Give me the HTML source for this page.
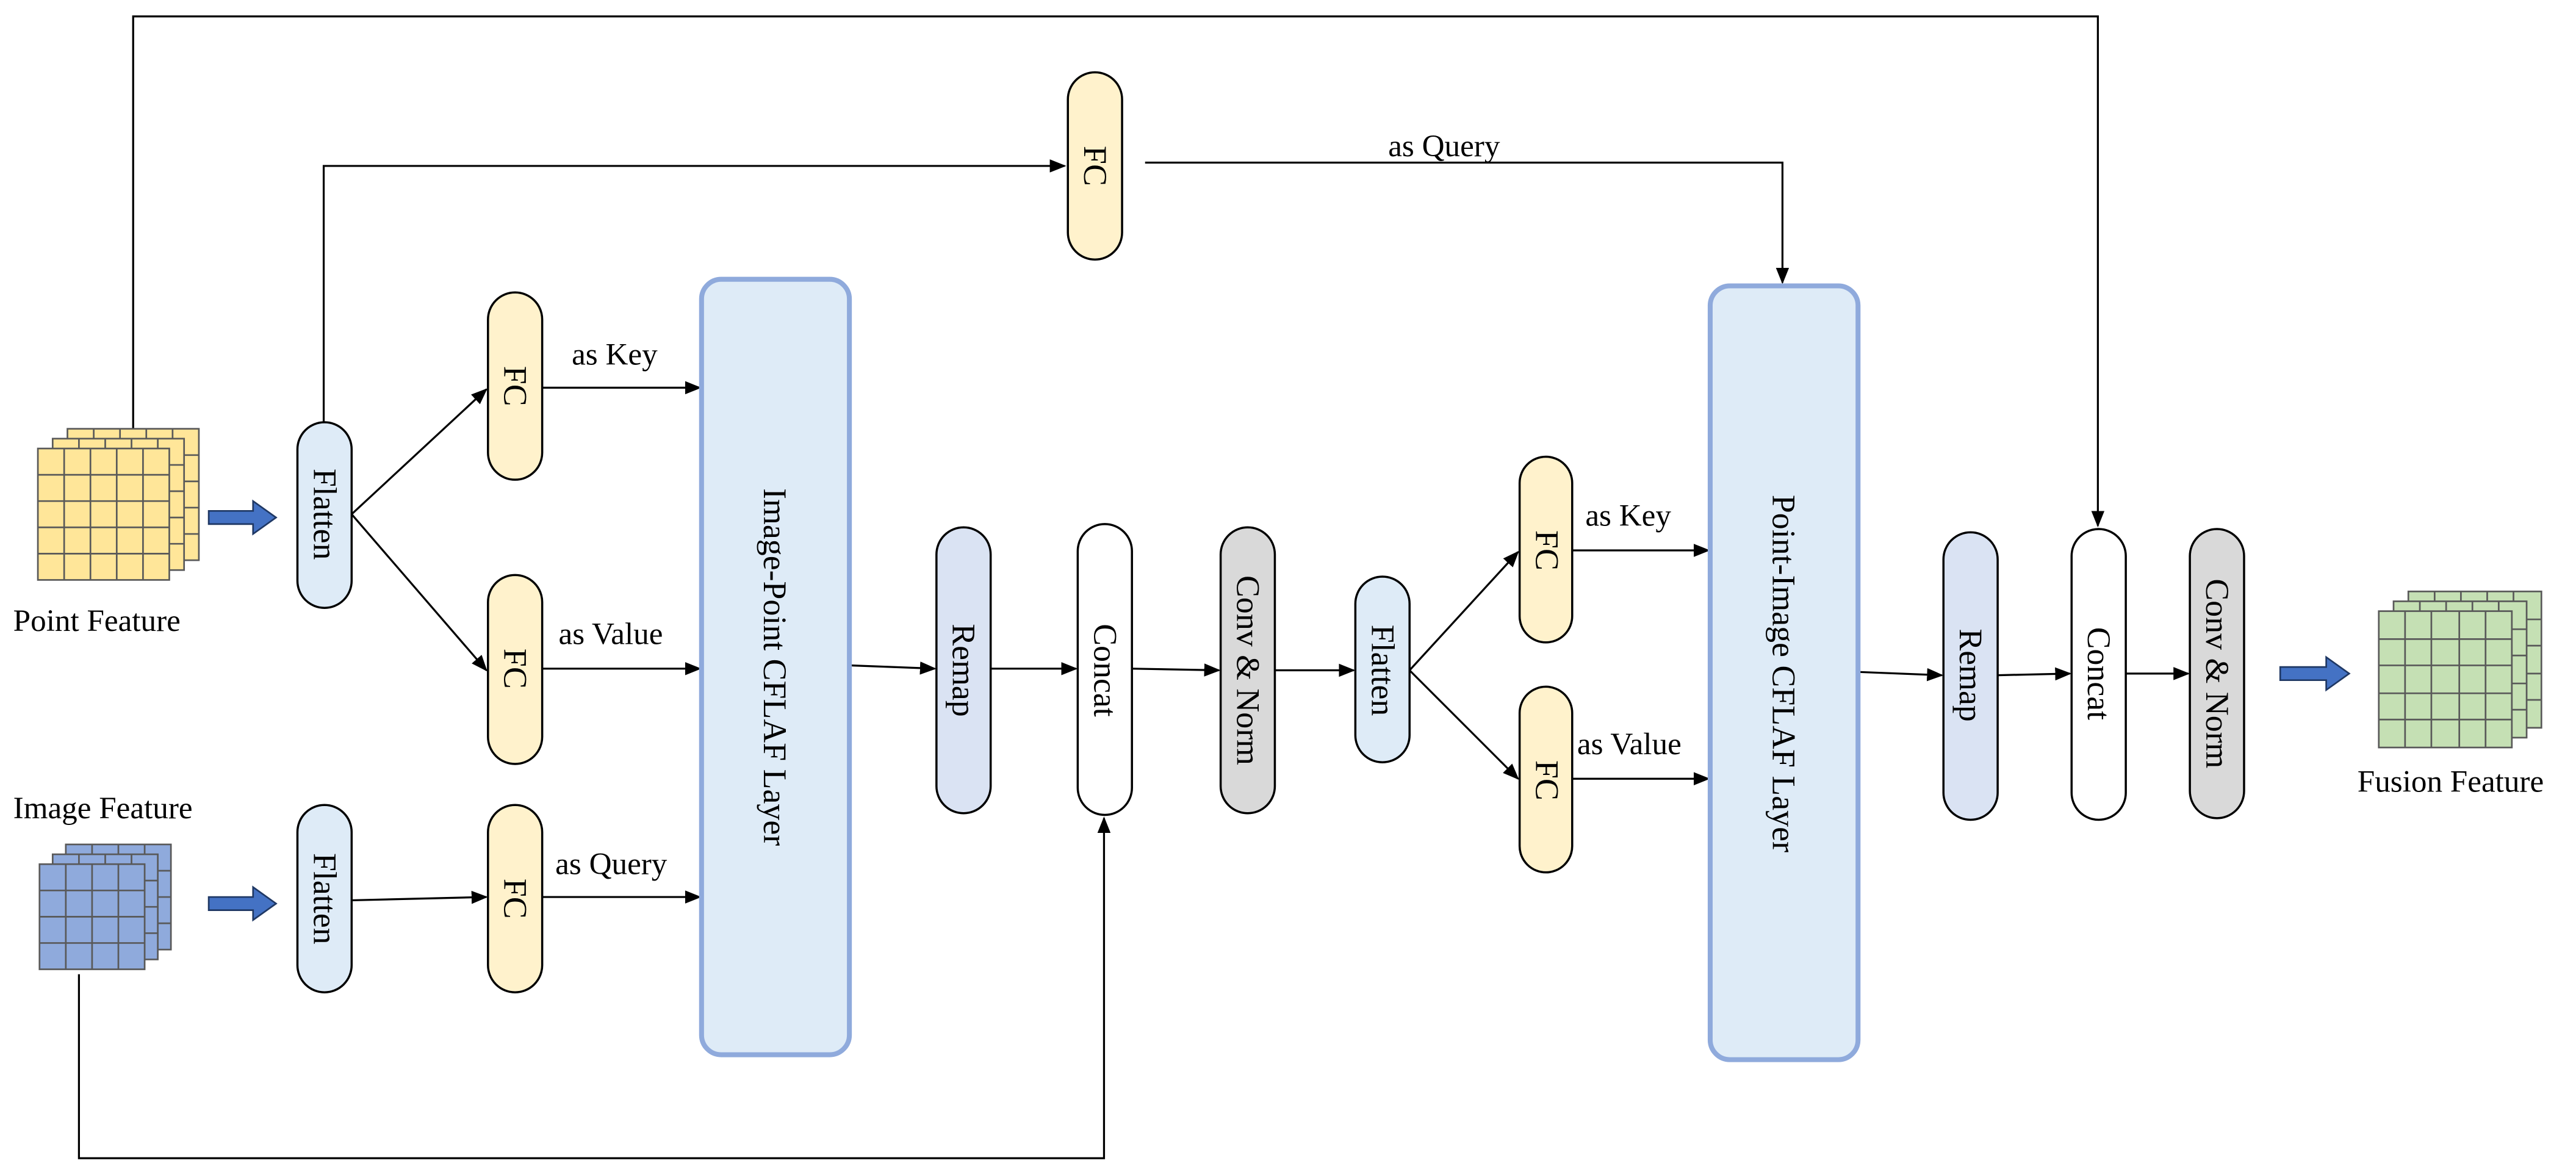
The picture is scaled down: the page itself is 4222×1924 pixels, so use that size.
<!DOCTYPE html>
<html><head><meta charset="utf-8"><style>
html,body{margin:0;padding:0;background:#fff;}
svg{display:block;}
</style></head><body>
<svg width="4222" height="1924" viewBox="0 0 1568 714.6" xmlns="http://www.w3.org/2000/svg" font-family="'Liberation Serif', 'Times New Roman', serif">
<defs>
<marker id="a" markerWidth="10" markerHeight="8" refX="9" refY="4" orient="auto" markerUnits="userSpaceOnUse"><path d="M0,0 L10,4 L0,8 z" fill="#000"/></marker>
</defs>
<g stroke="#000" stroke-width="1.2" fill="none">
<polyline points="81,262 81,10 1277,10 1277,320" marker-end="url(#a)"/>
<polyline points="197,257 197,101 648,101" marker-end="url(#a)"/>
<line x1="214" y1="313" x2="296" y2="237" marker-end="url(#a)"/>
<line x1="214" y1="313" x2="296" y2="408" marker-end="url(#a)"/>
<line x1="330" y1="236" x2="426" y2="236" marker-end="url(#a)"/>
<line x1="330" y1="407" x2="426" y2="407" marker-end="url(#a)"/>
<line x1="214" y1="548" x2="296" y2="546" marker-end="url(#a)"/>
<line x1="330" y1="546" x2="426" y2="546" marker-end="url(#a)"/>
<polyline points="48,593 48,705 672,705 672,498" marker-end="url(#a)"/>
<line x1="517" y1="405" x2="569" y2="407" marker-end="url(#a)"/>
<line x1="603" y1="407" x2="655" y2="407" marker-end="url(#a)"/>
<line x1="689" y1="407" x2="742" y2="408" marker-end="url(#a)"/>
<line x1="776" y1="408" x2="824" y2="408" marker-end="url(#a)"/>
<line x1="858" y1="408" x2="924" y2="336" marker-end="url(#a)"/>
<line x1="858" y1="408" x2="924" y2="474" marker-end="url(#a)"/>
<line x1="957" y1="335" x2="1040" y2="335" marker-end="url(#a)"/>
<line x1="957" y1="474" x2="1040" y2="474" marker-end="url(#a)"/>
<polyline points="697,99 1085,99 1085,172" marker-end="url(#a)"/>
<line x1="1131" y1="409" x2="1182" y2="411" marker-end="url(#a)"/>
<line x1="1216" y1="411" x2="1260" y2="410" marker-end="url(#a)"/>
<line x1="1294" y1="410" x2="1332" y2="410" marker-end="url(#a)"/>
</g>

<!-- point feature grids -->
<g stroke="#595959" stroke-width="1" fill="#ffe699">
<rect x="41" y="261" width="80" height="80"/>
<rect x="32" y="267" width="80" height="80"/>
<rect x="23" y="273" width="80" height="80"/>
<path fill="none" d="M39,273V353M55,273V353M71,273V353M87,273V353M23,289H103M23,305H103M23,321H103M23,337H103"/>
<path fill="none" d="M48,267V273M64,267V273M80,267V273M96,267V273M103,283H112M103,299H112M103,315H112M103,331H112"/>
<path fill="none" d="M57,261V267M73,261V267M89,261V267M105,261V267M112,277H121M112,293H121M112,309H121M112,325H121"/>
</g>
<text x="8" y="384" font-size="19">Point Feature</text>

<!-- image feature grids -->
<g stroke="#595959" stroke-width="1" fill="#8faadc">
<rect x="40" y="514" width="64" height="64"/>
<rect x="32" y="520" width="64" height="64"/>
<rect x="24" y="526" width="64" height="64"/>
<path d="M40,526V590M56,526V590M72,526V590M24,542H88M24,558H88M24,574H88" fill="none"/>
<path d="M48,520V526M64,520V526M80,520V526M88,536H96M88,552H96M88,568H96" fill="none"/>
<path d="M56,514V520M72,514V520M88,514V520M96,530H104M96,546H104M96,562H104" fill="none"/>
</g>
<text x="8" y="498" font-size="19">Image Feature</text>

<!-- fusion grids -->
<g stroke="#595959" stroke-width="1" fill="#c5e0b4">
<rect x="1466" y="360" width="81" height="83"/>
<rect x="1457" y="366" width="81" height="83"/>
<rect x="1448" y="372" width="81" height="83"/>
<path d="M1464,372V455M1480,372V455M1497,372V455M1513,372V455M1448,389H1529M1448,405H1529M1448,422H1529M1448,438H1529" fill="none"/>
<path d="M1473,366V372M1489,366V372M1505,366V372M1521,366V372M1529,383H1538M1529,399H1538M1529,416H1538M1529,432H1538" fill="none"/>
<path d="M1482,360V366M1498,360V366M1514,360V366M1530,360V366M1538,377H1547M1538,393H1547M1538,410H1547M1538,426H1547" fill="none"/>
</g>
<text x="1435" y="482" font-size="19">Fusion Feature</text>

<!-- blue arrows -->
<g fill="#4472c4" stroke="#1f3864" stroke-width="1">
<path d="M127,311 H154 V305 L168,315 L154,325 V319 H127 Z"/>
<path d="M127,546 H154 V540 L168,550 L154,560 V554 H127 Z"/>
<path d="M1388,406 H1416 V400 L1430,410 L1416,420 V414 H1388 Z"/>
</g>

<!-- nodes -->
<g stroke="#000" stroke-width="1.3">
<rect x="181" y="257" width="33" height="113" rx="16.5" fill="#deebf7"/>
<rect x="181" y="490" width="33" height="114" rx="16.5" fill="#deebf7"/>
<rect x="825" y="351" width="33" height="113" rx="16.5" fill="#deebf7"/>
<rect x="297" y="178" width="33" height="114" rx="16.5" fill="#fff2cc"/>
<rect x="297" y="350" width="33" height="115" rx="16.5" fill="#fff2cc"/>
<rect x="297" y="490" width="33" height="114" rx="16.5" fill="#fff2cc"/>
<rect x="650" y="44" width="33" height="114" rx="16.5" fill="#fff2cc"/>
<rect x="925" y="278" width="32" height="113" rx="16" fill="#fff2cc"/>
<rect x="925" y="418" width="32" height="113" rx="16" fill="#fff2cc"/>
<rect x="570" y="321" width="33" height="174" rx="16.5" fill="#dae3f3"/>
<rect x="1183" y="324" width="33" height="175" rx="16.5" fill="#dae3f3"/>
<rect x="656" y="319" width="33" height="177" rx="16.5" fill="#fff"/>
<rect x="1261" y="322" width="33" height="177" rx="16.5" fill="#fff"/>
<rect x="743" y="321" width="33" height="174" rx="16.5" fill="#d9d9d9"/>
<rect x="1333" y="322" width="33" height="176" rx="16.5" fill="#d9d9d9"/>
</g>
<g stroke="#8faadc" stroke-width="3" fill="#deebf7">
<rect x="427" y="170" width="90" height="472" rx="12"/>
<rect x="1041" y="174" width="90" height="471" rx="12"/>
</g>

<!-- rotated labels -->
<g font-size="20" text-anchor="middle">
<text transform="translate(191,313) rotate(90)">Flatten</text>
<text transform="translate(191,547) rotate(90)">Flatten</text>
<text transform="translate(835,408) rotate(90)">Flatten</text>
<text transform="translate(307,235) rotate(90)">FC</text>
<text transform="translate(307,407) rotate(90)">FC</text>
<text transform="translate(307,547) rotate(90)">FC</text>
<text transform="translate(660,101) rotate(90)">FC</text>
<text transform="translate(935,335) rotate(90)">FC</text>
<text transform="translate(935,475) rotate(90)">FC</text>
<text transform="translate(580,408) rotate(90)">Remap</text>
<text transform="translate(1193,411) rotate(90)">Remap</text>
<text transform="translate(666,408) rotate(90)">Concat</text>
<text transform="translate(1271,410) rotate(90)">Concat</text>
<text transform="translate(753,408) rotate(90)">Conv &amp; Norm</text>
<text transform="translate(1343,410) rotate(90)">Conv &amp; Norm</text>
<text transform="translate(465,406) rotate(90)">Image-Point CFLAF Layer</text>
<text transform="translate(1079,410) rotate(90)">Point-Image CFLAF Layer</text>
</g>

<g font-size="19">
<text x="348" y="222">as Key</text>
<text x="340" y="392">as Value</text>
<text x="338" y="532">as Query</text>
<text x="965" y="320">as Key</text>
<text x="960" y="459">as Value</text>
<text x="845" y="95">as Query</text>
</g>
</svg>
</body></html>
